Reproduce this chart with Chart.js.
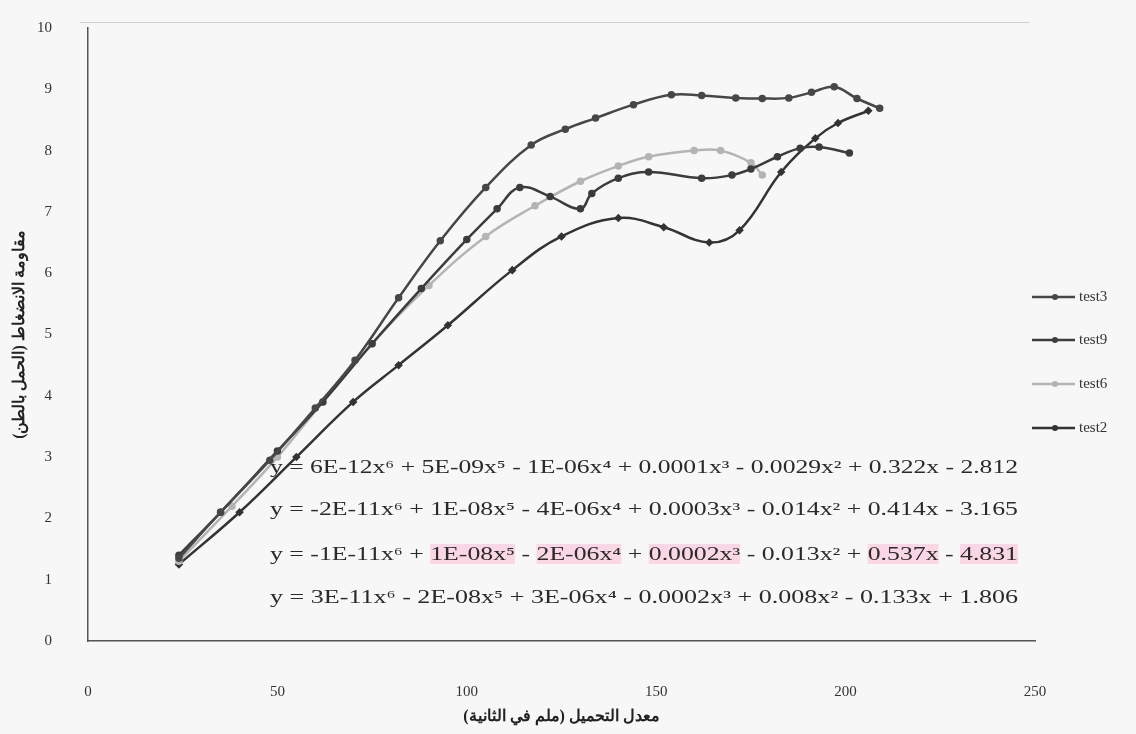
<!DOCTYPE html>
<html>
<head>
<meta charset="utf-8">
<script src="https://cdn.jsdelivr.net/npm/chart.js@4.4.1/dist/chart.umd.min.js"></script>
<style>
  html, body { margin: 0; padding: 0; background: #f7f7f7; }
  #wrap { width: 1136px; height: 734px; }
</style>
</head>
<body>
<div id="wrap"><canvas id="myChart" width="1136" height="734"></canvas></div>
<script>
// series names as in the legend
const seriesNames = ["test3", "test9", "test6", "test2"];

// x values (loading rate) and y values
const test3X = [24, 35, 48, 60, 70.5, 82, 93, 105, 117, 126, 134, 144, 154, 162, 171, 178, 185, 191, 197, 203, 209];
const test3Y = [1.35, 2.1, 2.95, 3.8, 4.58, 5.6, 6.53, 7.4, 8.09, 8.35, 8.53, 8.75, 8.91, 8.9, 8.86, 8.85, 8.86, 8.95, 9.04, 8.85, 8.69];

const test9X = [24, 35, 50, 62, 75, 88, 100, 108, 114, 122, 130, 133, 140, 148, 162, 170, 175, 182, 188, 193, 201];
const test9Y = [1.4, 2.1, 3.1, 3.9, 4.85, 5.75, 6.55, 7.05, 7.4, 7.25, 7.05, 7.3, 7.55, 7.65, 7.55, 7.6, 7.7, 7.9, 8.04, 8.06, 7.96];

const test6X = [24, 38, 50, 62, 75, 90, 105, 118, 130, 140, 148, 160, 167, 175, 178];
const test6Y = [1.3, 2.2, 3.0, 3.9, 4.85, 5.8, 6.6, 7.1, 7.5, 7.75, 7.9, 8.0, 8.0, 7.8, 7.6];

const test2X = [24, 40, 55, 70, 82, 95, 112, 125, 140, 152, 164, 172, 183, 192, 198, 206];
const test2Y = [1.25, 2.1, 3.0, 3.9, 4.5, 5.15, 6.05, 6.6, 6.9, 6.75, 6.5, 6.7, 7.65, 8.2, 8.45, 8.65];

// fitted trend line equations shown on the plot
const equations = [
  "y = 6E-12x⁶ + 5E-09x⁵ - 1E-06x⁴ + 0.0001x³ - 0.0029x² + 0.322x - 2.812",
  "y = -2E-11x⁶ + 1E-08x⁵ - 4E-06x⁴ + 0.0003x³ - 0.014x² + 0.414x - 3.165",
  "y = -1E-11x⁶ + 1E-08x⁵ - 2E-06x⁴ + 0.0002x³ - 0.013x² + 0.537x - 4.831",
  "y = 3E-11x⁶ - 2E-08x⁵ + 3E-06x⁴ - 0.0002x³ + 0.008x² - 0.133x + 1.806"
];

const xTicks = [0, 50, 100, 150, 200, 250];
const yTicks = [0, 1, 2, 3, 4, 5, 6, 7, 8, 9, 10];

const colors = ["#474747", "#3c3c3c", "#b4b4b4", "#333333"];
const markers = ["circle", "circle", "circle", "rectRot"];

function toPoints(xs, ys) {
  return xs.map((x, i) => ({ x: x, y: ys[i] }));
}
const seriesData = [
  toPoints(test3X, test3Y),
  toPoints(test9X, test9Y),
  toPoints(test6X, test6Y),
  toPoints(test2X, test2Y),
];

const serifFont = "'Liberation Serif', 'DejaVu Serif', serif";

// draws the equations and the legend at the right
const overlay = {
  id: "overlay",
  afterDraw(chart) {
    const ctx = chart.ctx;
    ctx.save();
    // equations
    const eqY = [468, 510, 555, 598];
    ctx.textBaseline = "middle";
    ctx.textAlign = "left";
    ctx.font = "18px " + serifFont;
    equations.forEach((eq, i) => {
      const w = ctx.measureText(eq).width;
      const target = 748;
      ctx.save();
      ctx.translate(270, eqY[i]);
      ctx.scale(target / w, 1);
      if (i === 2) {
        // pink highlights seen on the third equation
        const marks = ["1E-08x⁵", "2E-06x⁴", "0.0002x³", "0.537x", "4.831"];
        marks.forEach(m => {
          const idx = eq.indexOf(m);
          const x0 = ctx.measureText(eq.slice(0, idx)).width;
          const mw = ctx.measureText(m).width;
          ctx.fillStyle = "rgba(255,190,215,0.55)";
          ctx.fillRect(x0, -11, mw, 20);
        });
      }
      ctx.fillStyle = "#2a2a2a";
      ctx.fillText(eq, 0, 0);
      ctx.restore();
    });

    // legend
    const legY = [297, 340, 384, 428];
    ctx.font = "15px " + serifFont;
    seriesNames.forEach((name, i) => {
      const y = legY[i];
      ctx.strokeStyle = colors[i];
      ctx.lineWidth = 2.5;
      ctx.beginPath();
      ctx.moveTo(1032, y);
      ctx.lineTo(1075, y);
      ctx.stroke();
      ctx.fillStyle = colors[i];
      ctx.beginPath();
      ctx.arc(1055, y, 3, 0, Math.PI * 2);
      ctx.fill();
      ctx.fillStyle = "#333";
      ctx.fillText(name, 1079, y);
    });
    ctx.restore();
  }
};

const ctx = document.getElementById("myChart");

new Chart(ctx, {
  type: "line",
  data: {
    datasets: seriesNames.map((name, i) => ({
      label: name,
      data: seriesData[i],
      borderColor: colors[i],
      backgroundColor: colors[i],
      borderWidth: 2.5,
      pointRadius: 2.5,
      pointStyle: markers[i],
      tension: 0.4,
      fill: false,
    })),
  },
  options: {
    responsive: false,
    animation: false,
    layout: { padding: { left: 0, right: 101, top: 28, bottom: 8 } },
    plugins: {
      legend: { display: false },
      tooltip: { enabled: false },
    },
    scales: {
      x: {
        type: "linear",
        min: 0,
        max: 250,
        afterBuildTicks: (s) => { s.ticks = xTicks.map(v => ({ value: v })); },
        afterFit: (s) => { s.height = 85; s.paddingLeft = 0; s.paddingRight = 0; },
        grid: { display: false },
        border: { display: true, color: "#555", width: 1.5 },
        ticks: { padding: 34, color: "#333", font: { family: serifFont, size: 15 } },
        title: {
          display: true,
          text: "معدل التحميل (ملم في الثانية)",
          color: "#222",
          font: { family: serifFont, size: 16, weight: "bold" },
          padding: { top: 0, bottom: 0 },
        },
      },
      y: {
        min: 0,
        max: 10,
        afterBuildTicks: (s) => { s.ticks = yTicks.map(v => ({ value: v })); },
        afterFit: (s) => { s.width = 88; s.paddingTop = 0; s.paddingBottom = 0; },
        grid: { display: false },
        border: { display: true, color: "#555", width: 1.5 },
        ticks: { padding: 28, color: "#333", font: { family: serifFont, size: 15 } },
        title: {
          display: true,
          text: "مقاومة الانضغاط (الحمل بالطن)",
          color: "#222",
          font: { family: serifFont, size: 16, weight: "bold" },
          padding: { top: 10, bottom: 0 },
        },
      },
    },
  },
  plugins: [overlay, {
    id: "topBorder",
    beforeDraw(chart) {
      const a = chart.chartArea;
      const c = chart.ctx;
      c.save();
      c.strokeStyle = "#cfcfcf";
      c.lineWidth = 1;
      c.beginPath();
      c.moveTo(a.left - 8, 22.5);
      c.lineTo(1030, 22.5);
      c.stroke();
      c.restore();
    }
  }],
});
</script>
</body>
</html>
